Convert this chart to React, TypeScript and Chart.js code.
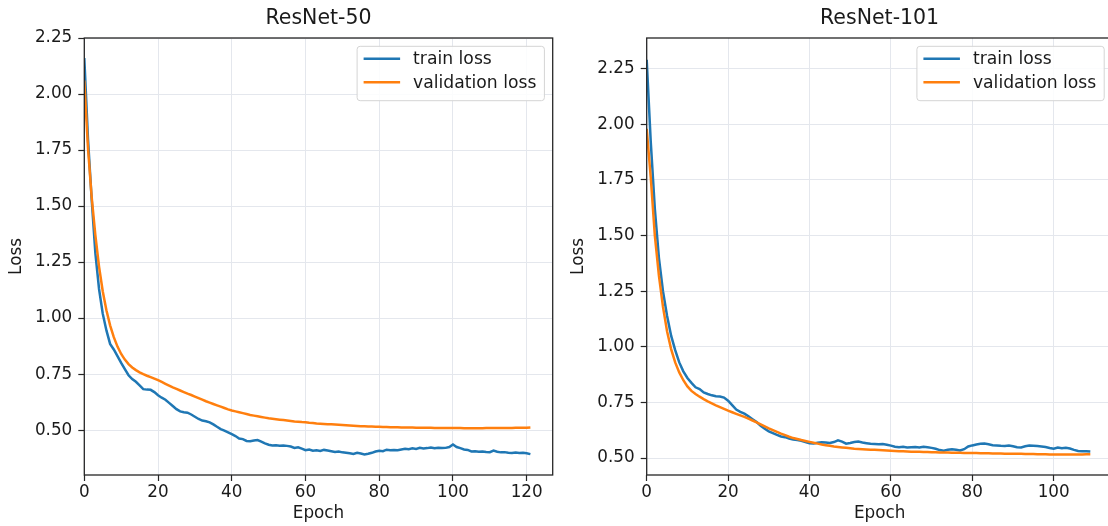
import React, { useEffect, useRef } from "react";
import { Chart, registerables } from "chart.js";

Chart.register(...registerables);

const FONT_FAMILY = "'DejaVu Sans', 'Liberation Sans', sans-serif";

const LEFT_TITLE = "ResNet-50";
const RIGHT_TITLE = "ResNet-101";
const X_LABEL = "Epoch";
const Y_LABEL = "Loss";
const SERIES_NAMES = ["train loss", "validation loss"];
const SERIES_COLORS = ["#1f77b4", "#ff7f0e"];

// ResNet-50 (epochs 0..121)
const R50_TRAIN = [
  2.16, 1.80, 1.53, 1.29, 1.13, 1.02, 0.945, 0.885, 0.860, 0.830,
  0.800, 0.772, 0.745, 0.728, 0.716, 0.700, 0.683, 0.681, 0.680, 0.670,
  0.656, 0.645, 0.636, 0.622, 0.608, 0.594, 0.584, 0.580, 0.578, 0.570,
  0.560, 0.550, 0.543, 0.540, 0.535, 0.526, 0.515, 0.505, 0.498, 0.490,
  0.482, 0.474, 0.463, 0.460, 0.452, 0.451, 0.454, 0.456, 0.449, 0.441,
  0.435, 0.432, 0.433, 0.431, 0.432, 0.430, 0.427, 0.421, 0.424, 0.418,
  0.411, 0.414, 0.408, 0.410, 0.407, 0.412, 0.409, 0.406, 0.403, 0.405,
  0.401, 0.399, 0.397, 0.394, 0.399, 0.396, 0.392, 0.395, 0.399, 0.405,
  0.408, 0.406, 0.413, 0.410, 0.412, 0.411, 0.414, 0.417, 0.415, 0.419,
  0.416, 0.421, 0.418, 0.420, 0.423, 0.419, 0.422, 0.420, 0.421, 0.425,
  0.436, 0.425, 0.420, 0.414, 0.412, 0.405, 0.406, 0.404, 0.405, 0.403,
  0.402, 0.409, 0.404, 0.401, 0.402, 0.399, 0.398, 0.400, 0.398, 0.399,
  0.397, 0.393,
];
const R50_VAL = [
  2.06, 1.76, 1.54, 1.37, 1.23, 1.12, 1.035, 0.968, 0.915, 0.873,
  0.840, 0.815, 0.795, 0.780, 0.768, 0.758, 0.750, 0.743, 0.737, 0.730,
  0.723, 0.715, 0.707, 0.699, 0.691, 0.684, 0.677, 0.670, 0.663, 0.657,
  0.650, 0.643, 0.636, 0.629, 0.623, 0.617, 0.611, 0.605, 0.599, 0.593,
  0.588, 0.584, 0.580, 0.576, 0.572, 0.568, 0.565, 0.562, 0.559, 0.556,
  0.553, 0.551, 0.549, 0.547, 0.545, 0.543, 0.541, 0.539, 0.538, 0.536,
  0.535, 0.533, 0.532, 0.530, 0.529, 0.528, 0.527, 0.526, 0.525, 0.524,
  0.523, 0.522, 0.521, 0.520, 0.519, 0.518, 0.517, 0.516, 0.516, 0.515,
  0.515, 0.514, 0.514, 0.513, 0.513, 0.513, 0.512, 0.512, 0.512, 0.512,
  0.511, 0.511, 0.511, 0.511, 0.511, 0.510, 0.510, 0.510, 0.510, 0.510,
  0.510, 0.510, 0.510, 0.509, 0.509, 0.509, 0.509, 0.509, 0.509, 0.510,
  0.510, 0.510, 0.510, 0.510, 0.510, 0.510, 0.510, 0.511, 0.511, 0.511,
  0.511, 0.512,
];

// ResNet-101 (epochs 0..109)
const R101_TRAIN = [
  2.29, 1.92, 1.62, 1.40, 1.25, 1.14, 1.05, 0.985, 0.930, 0.890,
  0.860, 0.838, 0.818, 0.810, 0.795, 0.788, 0.782, 0.778, 0.777, 0.772,
  0.758, 0.738, 0.718, 0.708, 0.700, 0.688, 0.675, 0.662, 0.645, 0.632,
  0.620, 0.612, 0.604, 0.597, 0.594, 0.588, 0.583, 0.581, 0.578, 0.572,
  0.567, 0.566, 0.569, 0.571, 0.570, 0.568, 0.572, 0.580, 0.574, 0.565,
  0.568, 0.572, 0.574, 0.570, 0.567, 0.564, 0.563, 0.562, 0.563, 0.560,
  0.556, 0.551, 0.549, 0.551, 0.548, 0.549, 0.550, 0.548, 0.551, 0.549,
  0.546, 0.542, 0.536, 0.533, 0.538, 0.540, 0.537, 0.534, 0.540, 0.552,
  0.557, 0.561, 0.564, 0.565, 0.562, 0.558, 0.557, 0.555, 0.554, 0.556,
  0.553, 0.549, 0.548, 0.553, 0.556, 0.555, 0.554, 0.552, 0.550, 0.545,
  0.542, 0.547, 0.544, 0.546, 0.543, 0.537, 0.532, 0.531, 0.531, 0.530,
];
const R101_VAL = [
  1.98, 1.76, 1.50, 1.32, 1.18, 1.07, 0.990, 0.930, 0.885, 0.850,
  0.822, 0.802, 0.788, 0.776, 0.765, 0.755, 0.746, 0.737, 0.729, 0.721,
  0.713, 0.706, 0.699, 0.692, 0.685, 0.677, 0.669, 0.661, 0.652, 0.643,
  0.634, 0.626, 0.618, 0.610, 0.603, 0.596, 0.590, 0.586, 0.581, 0.577,
  0.573, 0.569, 0.565, 0.561, 0.558, 0.555, 0.552, 0.550, 0.548, 0.546,
  0.544, 0.542, 0.541, 0.540, 0.539, 0.538, 0.537, 0.536, 0.535, 0.534,
  0.533, 0.532, 0.531, 0.531, 0.530, 0.529, 0.528, 0.528, 0.527, 0.527,
  0.526, 0.526, 0.525, 0.525, 0.525, 0.524, 0.524, 0.524, 0.523, 0.523,
  0.523, 0.523, 0.522, 0.522, 0.522, 0.521, 0.521, 0.521, 0.520, 0.520,
  0.520, 0.519, 0.519, 0.518, 0.518, 0.518, 0.517, 0.517, 0.517, 0.516,
  0.516, 0.516, 0.516, 0.516, 0.516, 0.516, 0.516, 0.516, 0.517, 0.517,
];

const R50_X_RANGE = [0, 127.05];
const R50_Y_RANGE = [0.3, 2.25];
const R101_X_RANGE = [0, 114.45];
const R101_Y_RANGE = [0.424, 2.388];
const X_TICK_STEP = 20;
const Y_TICK_STEP = 0.25;

const TEXT_COLOR = "#1a1a1a";
const SPINE_COLOR = "#262626";
const GRID_COLOR = "#e4e7ed";
const TICK_FONT_SIZE = 16.8;
const LEGEND_FONT_SIZE = 17.2;
const TITLE_FONT_SIZE = 20.5;

const framePlugin = {
  id: "frame",
  afterDatasetsDraw(chart: any) {
    const { ctx, chartArea: a } = chart;
    ctx.save();
    ctx.strokeStyle = SPINE_COLOR;
    ctx.lineWidth = 1.3;
    ctx.strokeRect(a.left, a.top, a.right - a.left, a.bottom - a.top);
    ctx.restore();
  },
};

const boxLegendPlugin = {
  id: "boxLegend",
  afterDraw(chart: any) {
    const { ctx, chartArea: a } = chart;
    const ds = chart.data.datasets;
    ctx.save();
    ctx.font = `${LEGEND_FONT_SIZE}px ${FONT_FAMILY}`;
    const textW = Math.max(...ds.map((d: any) => ctx.measureText(d.label).width));
    const padL = 6.5;
    const handle = 36.5;
    const gap = 13;
    const padR = 8;
    const w = padL + handle + gap + textW + padR;
    const h = 54.4;
    const x = a.right - 8.3 - w;
    const y = a.top + 8.3;
    ctx.beginPath();
    if (ctx.roundRect) ctx.roundRect(x, y, w, h, 3);
    else ctx.rect(x, y, w, h);
    ctx.fillStyle = "rgba(255,255,255,0.85)";
    ctx.fill();
    ctx.strokeStyle = "#d4d4d4";
    ctx.lineWidth = 1;
    ctx.stroke();
    ds.forEach((d: any, i: number) => {
      const cy = y + 12.4 + i * 23.6;
      ctx.beginPath();
      ctx.moveTo(x + padL, cy);
      ctx.lineTo(x + padL + handle, cy);
      ctx.strokeStyle = d.borderColor;
      ctx.lineWidth = 2.5;
      ctx.stroke();
      ctx.fillStyle = TEXT_COLOR;
      ctx.textBaseline = "middle";
      ctx.textAlign = "left";
      ctx.fillText(d.label, x + padL + handle + gap, cy + 1);
    });
    ctx.restore();
  },
};

function makeConfig(
  title: string,
  train: number[],
  val: number[],
  xRange: number[],
  yRange: number[],
  yAxisWidth: number,
  padRight: number,
  yTitlePad: number
): any {
  return {
    type: "line",
    data: {
      datasets: [
        {
          label: SERIES_NAMES[0],
          data: train.map((v, i) => ({ x: i, y: v })),
          borderColor: SERIES_COLORS[0],
          backgroundColor: SERIES_COLORS[0],
          borderWidth: 2.5,
          pointRadius: 0,
          tension: 0,
          fill: false,
          order: 1,
        },
        {
          label: SERIES_NAMES[1],
          data: val.map((v, i) => ({ x: i, y: v })),
          borderColor: SERIES_COLORS[1],
          backgroundColor: SERIES_COLORS[1],
          borderWidth: 2.5,
          pointRadius: 0,
          tension: 0,
          fill: false,
          order: 0,
        },
      ],
    },
    options: {
      animation: false,
      responsive: false,
      maintainAspectRatio: false,
      events: [],
      layout: { padding: { left: 0, right: padRight, top: 0, bottom: 0 } },
      plugins: {
        legend: { display: false },
        tooltip: { enabled: false },
        title: {
          display: true,
          text: title,
          fullSize: false,
          color: TEXT_COLOR,
          font: { size: TITLE_FONT_SIZE, weight: "normal", family: FONT_FAMILY, lineHeight: 24 / TITLE_FONT_SIZE },
          padding: { top: 7, bottom: 7 },
        },
      },
      scales: {
        x: {
          type: "linear",
          min: xRange[0],
          max: xRange[1],
          border: { display: false },
          grid: {
            color: GRID_COLOR,
            lineWidth: 1,
            tickColor: SPINE_COLOR,
            tickLength: 6,
            tickWidth: 1.2,
          },
          ticks: {
            stepSize: X_TICK_STEP,
            includeBounds: false,
            autoSkip: false,
            maxRotation: 0,
            padding: 2,
            color: TEXT_COLOR,
            font: { size: TICK_FONT_SIZE, family: FONT_FAMILY },
            callback: (v: any) => String(v),
          },
          title: {
            display: true,
            text: X_LABEL,
            color: TEXT_COLOR,
            font: { size: TICK_FONT_SIZE, family: FONT_FAMILY },
            padding: { top: 0, bottom: 2 },
          },
          afterFit: (s: any) => {
            s.height = 51;
          },
        },
        y: {
          type: "linear",
          min: yRange[0],
          max: yRange[1],
          border: { display: false },
          grid: {
            color: GRID_COLOR,
            lineWidth: 1,
            tickColor: SPINE_COLOR,
            tickLength: 6,
            tickWidth: 1.2,
          },
          ticks: {
            stepSize: Y_TICK_STEP,
            includeBounds: false,
            autoSkip: false,
            padding: 6,
            color: TEXT_COLOR,
            font: { size: TICK_FONT_SIZE, family: FONT_FAMILY },
            callback: (v: any) => Number(v).toFixed(2),
          },
          title: {
            display: true,
            text: Y_LABEL,
            color: TEXT_COLOR,
            font: { size: TICK_FONT_SIZE, family: FONT_FAMILY },
            padding: { top: yTitlePad, bottom: 0 },
          },
          afterFit: (s: any) => {
            s.width = yAxisWidth;
          },
        },
      },
    },
    plugins: [framePlugin, boxLegendPlugin],
  };
}

function LossChart(props: { config: any; left: number; width: number }) {
  const ref = useRef<HTMLCanvasElement | null>(null);
  useEffect(() => {
    if (!ref.current) return;
    const chart = new Chart(ref.current, props.config);
    return () => chart.destroy();
  }, []);
  return (
    <canvas
      ref={ref}
      width={props.width}
      height={526}
      style={{ position: "absolute", left: props.left, top: 0, width: props.width, height: 526, display: "block" }}
    />
  );
}

export default function App() {
  const leftCfg = makeConfig(LEFT_TITLE, R50_TRAIN, R50_VAL, R50_X_RANGE, R50_Y_RANGE, 84.3, 7.3, 7);
  const rightCfg = makeConfig(RIGHT_TITLE, R101_TRAIN, R101_VAL, R101_X_RANGE, R101_Y_RANGE, 86.7, 7.5, 8.5);
  return (
    <div
      style={{
        position: "absolute",
        left: 0,
        top: 0,
        width: 1108,
        height: 526,
        overflow: "hidden",
        background: "#ffffff",
      }}
    >
      <LossChart config={leftCfg} left={0} width={560} />
      <LossChart config={rightCfg} left={560} width={560} />
    </div>
  );
}
